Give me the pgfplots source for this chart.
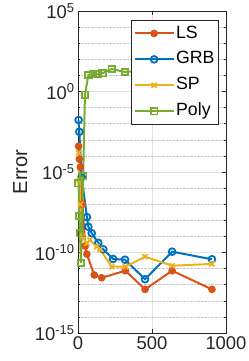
\documentclass[border=0pt]{standalone}
\usepackage{fontspec}
\setmainfont{Liberation Sans}
\usepackage{pgfplots}
\pgfplotsset{compat=1.18}
\definecolor{mLS}{rgb}{0.850,0.325,0.098}
\definecolor{mGRB}{rgb}{0,0.447,0.741}
\definecolor{mSP}{rgb}{0.929,0.694,0.125}
\definecolor{mPoly}{rgb}{0.466,0.674,0.188}
\definecolor{axgray}{rgb}{0.15,0.15,0.15}
\begin{document}
\begin{tikzpicture}
\path[use as bounding box] (-78bp,-28bp) rectangle (171bp,333bp);
\begin{axis}[
  scale only axis,
  width=148bp, height=322bp,
  at={(0bp,0bp)}, anchor=south west,
  ymode=log,
  xmin=0, xmax=1000, ymin=1e-15, ymax=1e5,
  xtick={0,500,1000},
  xticklabels={0,500,1000},
  ytick={1e-15,1e-10,1e-5,1,1e5},
  yticklabels={10\textsuperscript{-15},10\textsuperscript{-10},10\textsuperscript{-5},10\textsuperscript{0},10\textsuperscript{5}},
  minor ytick={1e-14,1e-13,1e-12,1e-11,1e-9,1e-8,1e-7,1e-6,1e-4,1e-3,1e-2,1e-1,1e1,1e2,1e3,1e4},
  /pgf/number format/assume math mode=true,
  tick label style={font=\fontsize{18.5}{20}\selectfont, text=axgray},
  ylabel={Error},
  ylabel style={at={(axis description cs:-0.39,0.5)}, anchor=center, font=\fontsize{20.3}{22}\selectfont, text=axgray},
  tick align=inside,
  major tick length=4bp, minor tick length=2.5bp,
  axis line style={axgray, line width=0.5pt},
  every tick/.style={axgray, line width=0.5pt},
  xmajorgrids, ymajorgrids, yminorgrids,
  major grid style={solid, gray!22, line width=0.5pt},
  minor grid style={densely dotted, gray!45, line width=0.5pt},
  clip=false,
  legend style={at={(0.948,0.972)}, anchor=north east, font=\fontsize{17.8}{19}\selectfont,
    draw=axgray, line width=0.5pt, fill=white, inner xsep=2bp, inner ysep=3.5bp,
    row sep=6.5bp, nodes={inner sep=1.5bp, text height=12.8bp, text depth=3.6bp}},
  legend cell align=left,
  legend image code/.code={\draw[mark repeat=2,mark phase=2,#1] plot coordinates {(0bp,0bp) (19.5bp,0bp) (39bp,0bp)};},
]
\addplot[color=mLS, line width=2pt, mark=*, mark size=2.8bp, mark options={fill=mLS, solid}] coordinates {
 (4,3.98e-4) (9,6.31e-5) (16,2.0e-5) (30,1e-7) (49,2.51e-10) (60,7.94e-11) (110,3.98e-12) (160,2.69e-12) (320,7.41e-12) (453,5.13e-13) (636,7.41e-12) (905,5.13e-13)
};
\addlegendentry{LS}
\addplot[color=mGRB, line width=2pt, mark=o, mark size=3.4bp, mark options={solid, line width=1.8pt}] coordinates {
 (4,1.7e-2) (9,3.16e-3) (25,5.0e-6) (60,1.58e-8) (70,3.98e-9) (93,1.58e-9) (137,3.98e-10) (171,1.58e-10) (237,3.98e-11) (318,3.55e-11) (453,2.19e-12) (636,1.12e-10) (905,3.8e-11)
};
\addlegendentry{GRB}
\addplot[color=mSP, line width=2pt, mark=x, mark size=3.6bp, mark options={solid, line width=1.8pt}] coordinates {
 (4,1.58e-4) (9,3.16e-6) (16,1e-7) (30,1e-9) (60,3.72e-10) (81,6.03e-10) (126,2.29e-10) (149,1.58e-10) (228,1.32e-11) (320,1.32e-11) (453,5.5e-11) (636,1.51e-11) (905,1.95e-11)
};
\addlegendentry{SP}
\addplot[color=mPoly, line width=2pt, mark=square, mark size=3.3bp, mark options={solid, line width=1.8pt}] coordinates {
 (4,2.0e-6) (9,1.86e-8) (13,1.58e-9) (20,2.24e-11) (35,5.62e-6) (47,0.63) (70,10.5) (100,12.3) (131,12.3) (165,13.8) (228,25.1) (318,16.2) (453,20) (636,25) (905,31.6)
};
\addlegendentry{Poly}
\end{axis}
\end{tikzpicture}
\end{document}
